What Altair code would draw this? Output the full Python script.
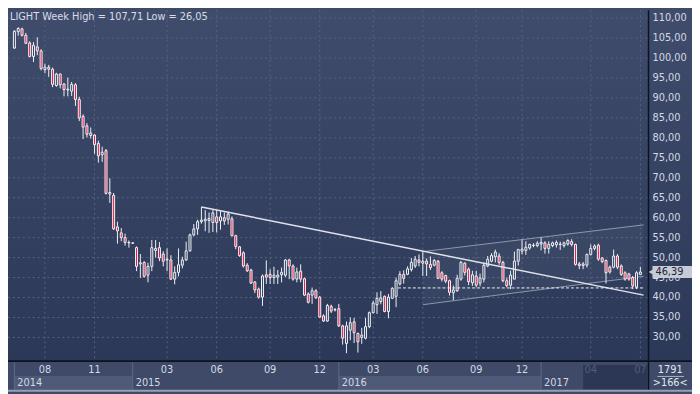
import altair as alt
import pandas as pd

# ---------------- data (weekly OHLC, one bar per entry) ----------------
opens = [102.5,106.6,107.3,105.7,103.8,100.4,102.8,101.8,97.1,97.7,
         97.2,93.1,96.0,93.5,92.0,91.7,93.3,89.6,85.4,83.0,
         80.6,80.7,78.6,75.8,76.8,65.9,65.6,57.7,56.2,55.0,
         53.8,53.7,52.5,48.4,48.8,45.6,47.8,51.8,52.5,50.9,
         49.4,49.4,44.6,46.3,48.1,49.4,51.7,55.7,57.2,59.0,
         59.2,59.3,58.8,60.2,59.2,60.0,59.6,59.7,55.5,52.7,
         51.2,48.1,46.9,43.9,42.1,40.1,45.7,45.8,45.0,45.1,
         45.7,45.6,49.4,47.9,44.6,46.6,44.7,40.9,40.6,41.7,
         40.1,35.4,34.1,37.8,37.0,37.2,32.9,28.5,31.8,33.9,
         31.0,30.0,29.8,32.7,36.2,38.2,39.0,40.3,36.5,39.8,
         40.3,43.4,45.8,45.8,47.0,47.9,49.4,48.6,49.1,48.3,
         48.1,49.1,46.2,45.5,44.2,41.2,41.7,44.6,48.6,47.1,
         43.7,45.4,43.6,44.6,47.9,49.1,50.2,50.4,48.8,44.2,
         43.1,44.6,49.1,51.6,51.8,52.4,53.0,53.0,53.4,53.7,
         52.3,53.0,53.2,53.3,53.0,53.4,54.0,53.3,48.4,48.0,
         48.1,50.8,52.3,53.1,49.9,49.3,47.6,47.6,50.4,47.9,
         46.2,45.9,45.0,42.6,45.8]
highs = [107.0,107.71,107.6,106.3,104.2,104.0,105.2,102.2,98.6,98.3,
         97.6,96.3,96.1,93.7,95.1,94.0,93.7,90.3,85.9,83.7,
         82.6,80.9,79.3,77.8,77.2,69.9,66.2,59.0,57.4,56.0,
         54.3,53.9,52.8,50.9,49.1,48.7,54.4,54.4,53.9,51.6,
         52.3,50.6,47.8,52.3,50.2,54.0,56.0,58.4,59.5,62.7,
         61.9,61.3,61.9,61.9,61.6,61.3,61.5,60.3,55.7,52.9,
         51.6,48.6,47.2,44.1,42.5,45.8,49.3,47.1,47.7,46.9,
         47.5,49.6,49.7,48.3,47.5,48.3,45.0,41.3,42.5,42.1,
         40.4,35.8,38.4,38.2,37.4,38.4,33.2,34.0,35.0,34.9,
         31.2,32.4,34.9,36.5,39.2,41.3,41.6,40.5,40.9,42.6,
         45.0,46.6,46.8,47.8,49.9,50.4,50.8,51.6,49.8,50.3,
         49.6,49.4,46.6,45.7,44.5,43.0,45.7,49.2,48.8,47.5,
         46.7,46.7,46.0,48.8,50.4,51.1,52.0,51.1,49.2,45.0,
         46.7,51.5,52.2,54.5,54.1,53.5,53.6,54.1,55.1,54.1,
         54.1,54.0,54.3,54.0,54.0,54.6,54.6,53.5,48.9,48.9,
         51.0,53.3,53.3,53.5,50.1,49.5,48.0,52.0,50.9,48.3,
         46.6,46.2,45.4,46.6,47.7]
lows = [102.3,105.6,105.4,103.5,100.2,99.0,100.7,96.9,96.2,95.3,
        92.7,92.8,92.4,90.4,90.4,90.5,88.0,84.2,79.7,80.1,
        79.8,76.0,73.8,74.0,65.8,63.7,56.9,53.5,54.1,53.0,
        52.5,53.4,46.6,44.9,45.0,43.8,46.6,50.0,49.1,47.8,
        46.6,44.4,43.3,45.3,47.3,49.2,51.5,55.3,55.7,58.5,
        56.6,56.2,56.4,56.3,57.0,58.2,58.3,55.3,52.1,50.2,
        47.5,46.4,43.4,41.1,39.7,37.9,43.4,43.4,43.4,43.4,
        43.8,45.1,44.6,44.2,43.8,43.8,40.4,38.5,38.4,39.7,
        34.9,33.9,33.9,36.1,36.5,32.6,28.2,26.05,29.3,28.6,
        26.2,28.4,29.5,32.3,36.0,35.9,38.3,36.3,34.8,39.7,
        37.6,43.0,43.5,45.6,46.5,47.4,47.8,45.4,45.4,46.9,
        47.8,44.6,44.0,43.6,40.5,39.3,41.4,44.2,45.5,43.1,
        42.9,42.6,42.8,43.8,47.6,48.8,48.8,48.2,43.8,42.6,
        42.1,44.6,48.0,50.8,50.7,52.0,52.6,52.6,51.8,51.0,
        51.0,52.6,52.5,51.9,52.5,53.0,52.8,48.0,47.1,47.1,
        47.5,50.5,51.8,49.2,48.6,43.5,46.0,47.3,47.1,45.4,
        44.2,44.2,42.1,42.1,45.6]
closes = [106.7,107.4,105.7,103.7,100.4,103.2,101.8,97.4,97.7,97.2,
          93.4,96.0,93.3,92.1,92.2,93.4,89.6,85.0,82.7,80.9,
          81.2,78.3,75.5,76.4,66.1,66.3,57.2,56.7,55.0,53.8,
          53.7,53.6,47.8,48.7,45.3,47.8,52.5,52.3,49.9,49.1,
          49.6,44.6,46.3,48.2,49.4,51.7,55.7,57.2,59.0,59.4,
          59.6,59.8,61.2,58.8,60.2,59.2,60.9,55.5,52.8,50.5,
          47.9,46.7,43.6,41.9,40.1,45.4,45.1,45.0,45.6,45.6,
          46.3,49.4,47.9,44.6,46.4,44.6,40.6,38.8,41.7,39.9,
          35.1,34.1,38.0,36.6,36.9,32.9,29.8,32.9,33.7,31.2,
          28.9,30.6,32.7,36.2,38.6,39.8,39.9,36.5,40.1,42.3,
          44.2,45.8,44.8,47.2,48.8,49.6,48.8,49.1,48.4,47.5,
          49.3,44.8,44.6,44.1,41.3,41.9,44.8,48.8,46.3,44.0,
          45.7,43.1,44.9,48.1,49.6,50.5,51.4,48.8,44.2,43.0,
          45.6,49.1,52.0,52.1,52.6,53.3,53.1,53.6,53.8,52.3,
          53.3,53.7,53.8,53.4,53.7,54.3,53.3,48.3,48.0,48.4,
          50.8,52.3,52.9,49.6,49.0,46.2,46.4,50.4,47.6,45.8,
          44.6,44.6,42.9,46.2,46.39]

price_ticks = [30, 35, 40, 45, 50, 55, 60, 65, 70, 75, 80, 85, 90, 95, 100, 105, 110]
month_tick_bar = [8, 21, 40, 53, 67, 80, 94, 107, 121, 133, 151, 164]
month_labels = ["08", "11", "03", "06", "09", "12", "03", "06", "09", "12", "04", "07"]
year_start_bar = [0, 31, 85, 138]
year_end_bar = [31, 85, 138, 149]
year_labels = ["2014", "2015", "2016", "2017"]
year_shaded = [1, 0, 1, 0]

title_text = "LIGHT Week High = 107,71 Low = 26,05"
last_price = [46.39]
last_label = ["46,39"]

trend_bar = [49, 164.84]
trend_price = [62.7, 40.6]
channel_bar = [107, 164.84]
channel_low = [38.2, 45.3]
channel_high = [51.5, 58.2]
support_bar = [100.5, 164.84]
support_price = [42.4, 42.4]
future_start_bar = [149]
counter_texts = ["1791", ">166<"]

# ---------------- layout ----------------
W, H = 648, 355
RIGHT, BOTTOM = 44, 31
FONT = "Liberation Sans Narrow, DejaVu Sans Condensed, Liberation Sans, sans-serif"
TXT = "#d3d9e5"
GRID = "#56637f"

xs = alt.Scale(domain=[-0.38, 164.84], nice=False, zero=False)
ys = alt.Scale(domain=[24.06, 111.98], nice=False, zero=False)


def X(f):
    return alt.X(f, type="quantitative", scale=xs, axis=None)


def Y(f):
    return alt.Y(f, type="quantitative", scale=ys, axis=None)


df = pd.DataFrame({"i": list(range(len(opens))), "o": opens, "h": highs, "l": lows, "c": closes})
df["top"] = df[["o", "c"]].max(axis=1)
df["bot"] = df[["o", "c"]].min(axis=1)

one = pd.DataFrame({"a": [0]})

bg = alt.Chart(one).mark_rect(
    color=alt.Gradient(gradient="linear",
                       stops=[alt.GradientStop(color="#404c6b", offset=0),
                              alt.GradientStop(color="#2b3858", offset=1)],
                       x1=0, x2=0, y1=0, y2=1)
).encode(x=alt.value(0), x2=alt.value(W + RIGHT), y=alt.value(0), y2=alt.value(H))

band = alt.Chart(one).mark_rect(color="#3e4a68").encode(
    x=alt.value(0), x2=alt.value(W + RIGHT), y=alt.value(H), y2=alt.value(H + BOTTOM))
bottom_edge = alt.Chart(one).mark_rect(color="#97a1b4").encode(
    x=alt.value(0), x2=alt.value(W + RIGHT), y=alt.value(H + BOTTOM - 2), y2=alt.value(H + BOTTOM))

ydf = pd.DataFrame({"s": year_start_bar, "e": year_end_bar, "lab": year_labels, "sh": year_shaded})
year_boxes = alt.Chart(ydf).transform_filter("datum.sh == 1").mark_rect(color="#4e5a78").encode(
    x=X("s"), x2=alt.X2("e"), y=alt.value(H + 15), y2=alt.value(H + 29))
year_seps = alt.Chart(ydf).mark_rule(color="#5d6986", strokeWidth=1).encode(
    x=X("s"), y=alt.value(H + 1), y2=alt.value(H + 29))

hgrid = alt.Chart(pd.DataFrame({"p": price_ticks})).mark_rule(
    color=GRID, strokeDash=[2, 3], strokeWidth=1).encode(y=Y("p"), x=alt.value(0), x2=alt.value(W))
mdf = pd.DataFrame({"i": month_tick_bar, "lab": month_labels})
vgrid = alt.Chart(mdf).mark_rule(color=GRID, strokeDash=[2, 3], strokeWidth=1).encode(
    x=X("i"), y=alt.value(0), y2=alt.value(H))

chdf = pd.DataFrame({"i": channel_bar, "lo": channel_low, "hi": channel_high})
ch_fill = alt.Chart(chdf).mark_area(color="#ffffff", opacity=0.045).encode(
    x=X("i"), y=Y("lo"), y2=alt.Y2("hi"))
ch_lo = alt.Chart(chdf).mark_line(color="#8e98ad", strokeWidth=1).encode(x=X("i"), y=Y("lo"))
ch_hi = alt.Chart(chdf).mark_line(color="#8e98ad", strokeWidth=1).encode(x=X("i"), y=Y("hi"))

wick_hi = alt.Chart(df).mark_rule(color="#eef1f6", strokeWidth=1).encode(
    x=X("i"), y=Y("h"), y2=alt.Y2("top"))
wick_lo = alt.Chart(df).mark_rule(color="#eef1f6", strokeWidth=1).encode(
    x=X("i"), y=Y("bot"), y2=alt.Y2("l"))
bodies = alt.Chart(df).mark_bar(size=2, stroke="#f2f4f8", strokeWidth=1).encode(
    x=X("i"), y=Y("o"), y2=alt.Y2("c"),
    fill=alt.condition("datum.c >= datum.o", alt.value("#34405f"), alt.value("#e2173f")))

trend = alt.Chart(pd.DataFrame({"i": trend_bar, "p": trend_price})).mark_line(
    color="#dfe3ea", strokeWidth=1.5).encode(x=X("i"), y=Y("p"))
support = alt.Chart(pd.DataFrame({"i": support_bar, "p": support_price})).mark_line(
    color="#eef1f6", strokeWidth=1, strokeDash=[3, 2]).encode(x=X("i"), y=Y("p"))

hline = alt.Chart(one).mark_rule(color="#0d1220", strokeWidth=2).encode(
    x=alt.value(0), x2=alt.value(W + RIGHT), y=alt.value(H))
vline = alt.Chart(one).mark_rule(color="#0d1220", strokeWidth=1.5).encode(
    x=alt.value(W), y=alt.value(0), y2=alt.value(H + BOTTOM))

pdf = pd.DataFrame({"p": price_ticks, "lab": [f"{v:.2f}".replace(".", ",") for v in price_ticks]})
price_labels = alt.Chart(pdf).mark_text(
    align="left", baseline="middle", font=FONT, fontSize=11, color=TXT).encode(
    x=alt.value(W + 4), y=Y("p"), text="lab:N")

month_text = alt.Chart(mdf).mark_text(
    align="center", baseline="middle", font=FONT, fontSize=11, color=TXT).encode(
    x=X("i"), y=alt.value(H + 9), text="lab:N")
year_text = alt.Chart(ydf).mark_text(
    align="left", baseline="middle", font=FONT, fontSize=11, color=TXT, dx=3).encode(
    x=X("s"), y=alt.value(H + 22), text="lab:N")

future = alt.Chart(pd.DataFrame({"s": future_start_bar})).mark_rect(color="#26314e", opacity=0.75).encode(
    x=X("s"), x2=alt.value(W - 1), y=alt.value(H + 4), y2=alt.value(H + 29))

lpdf = pd.DataFrame({"p": last_price, "lab": last_label})
price_box = alt.Chart(lpdf).mark_rect(color="#c6cbd4", yOffset=-6, y2Offset=6).encode(
    x=alt.value(W + 4), x2=alt.value(W + RIGHT), y=Y("p"), y2=alt.Y2("p"))
price_arrow = alt.Chart(lpdf).mark_point(shape="triangle-left", filled=True, size=45,
                                         color="#c6cbd4", opacity=1).encode(
    x=alt.value(W + 3), y=Y("p"))
price_text = alt.Chart(lpdf).mark_text(
    align="left", baseline="middle", font=FONT, fontSize=11, color="#1c2338").encode(
    x=alt.value(W + 7), y=Y("p"), text="lab:N")

cnt_df = pd.DataFrame({"t": counter_texts, "yy": [H + 9, H + 21]})
counter_text = alt.Chart(cnt_df).mark_text(
    align="center", baseline="middle", font=FONT, fontSize=11, color="#e2e6ee").encode(
    x=alt.value(W + 22), y=alt.value(0), text="t:N").transform_calculate(dummy="0")
cnt1 = alt.Chart(one).mark_text(align="center", baseline="middle", font=FONT, fontSize=11,
                                color="#e2e6ee", text=counter_texts[0]).encode(
    x=alt.value(W + 22), y=alt.value(H + 9))
cnt2 = alt.Chart(one).mark_text(align="center", baseline="middle", font=FONT, fontSize=11,
                                color="#e2e6ee", text=counter_texts[1]).encode(
    x=alt.value(W + 22), y=alt.value(H + 22))
cnt_rule = alt.Chart(one).mark_rule(color="#aab3c4", strokeWidth=1).encode(
    x=alt.value(W + 9), x2=alt.value(W + 36), y=alt.value(H + 15.5))

title = alt.Chart(one).mark_text(align="left", baseline="top", font=FONT, fontSize=11,
                                 color="#d8dde8", text=title_text).encode(
    x=alt.value(2), y=alt.value(1))

chart = alt.layer(
    bg, band, year_boxes, year_seps, hgrid, vgrid,
    ch_fill, ch_lo, ch_hi, wick_hi, wick_lo, bodies, trend, support,
    hline, vline, price_labels, month_text, year_text, future, bottom_edge,
    price_box, price_arrow, price_text, cnt1, cnt2, cnt_rule, title
).properties(
    width=W, height=H,
    autosize=alt.AutoSizeParams(type="none"),
    padding={"left": 0, "top": 0, "right": RIGHT, "bottom": BOTTOM},
    background="#3e4a68"
).configure_view(strokeWidth=0)

chart.save("out.html", embed_options={"renderer": "svg", "actions": False})
